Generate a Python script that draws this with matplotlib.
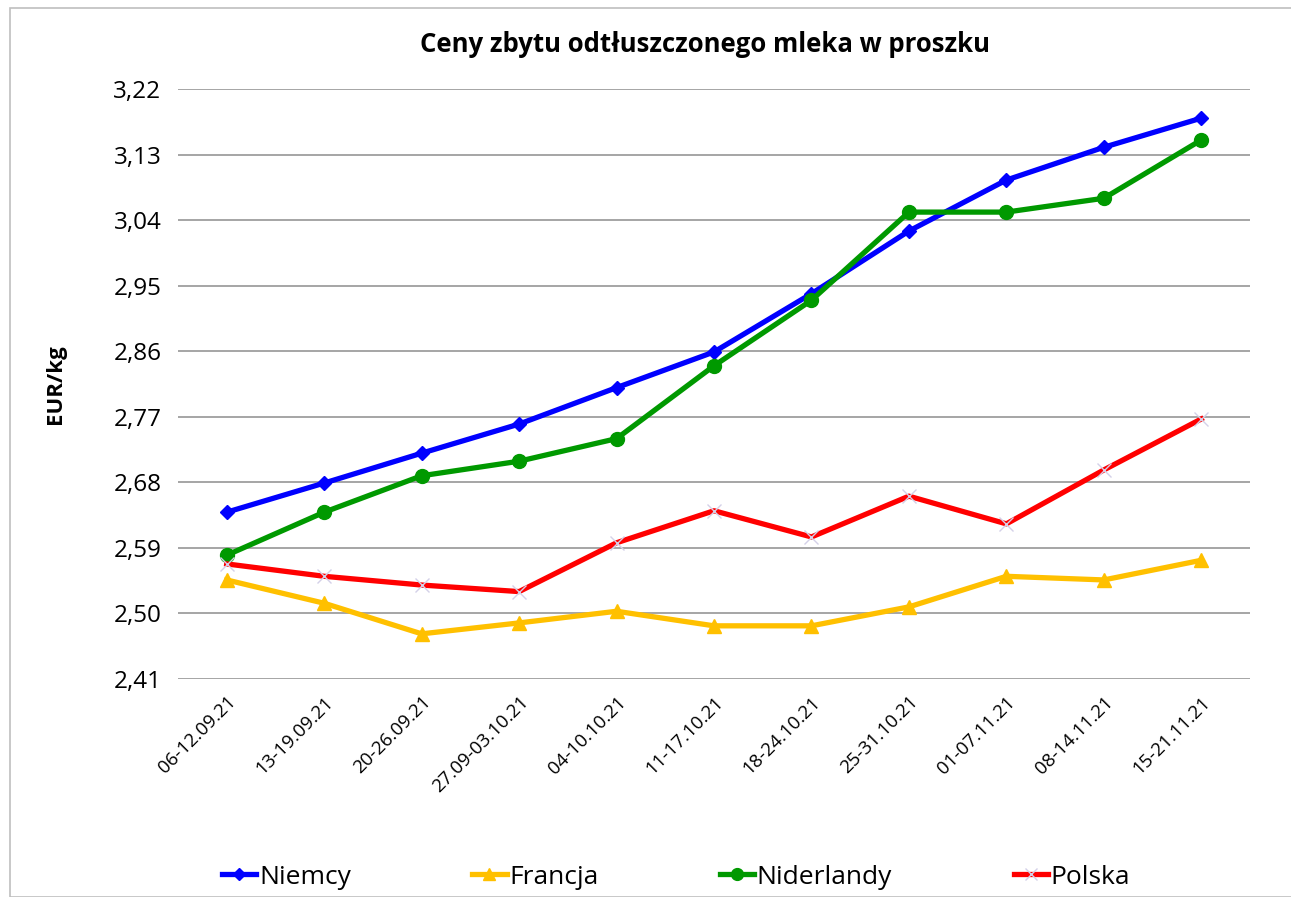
import matplotlib.pyplot as plt
import matplotlib.patches as patches
import numpy as np

weeks = ["06-12.09.21", "13-19.09.21", "20-26.09.21", "27.09-03.10.21", "04-10.10.21",
         "11-17.10.21", "18-24.10.21", "25-31.10.21", "01-07.11.21", "08-14.11.21",
         "15-21.11.21"]
niemcy = [2.639, 2.679, 2.720, 2.760, 2.810, 2.859, 2.939, 3.025, 3.095, 3.140, 3.180]
francja = [2.546, 2.514, 2.472, 2.487, 2.503, 2.483, 2.483, 2.509, 2.551, 2.546, 2.573]
niderlandy = [2.580, 2.639, 2.689, 2.709, 2.740, 2.840, 2.930, 3.051, 3.051, 3.070, 3.150]
polska = [2.568, 2.551, 2.539, 2.530, 2.597, 2.641, 2.605, 2.661, 2.623, 2.697, 2.767]
yticks = [2.41, 2.50, 2.59, 2.68, 2.77, 2.86, 2.95, 3.04, 3.13, 3.22]

fig = plt.figure(figsize=(12.91, 8.97), dpi=100)
ax = fig.add_axes([178 / 1291, 1 - 679 / 897, 1072 / 1291, 590 / 897])

# outer chart border
fig.patches.append(patches.Rectangle((10 / 1291, 0), 1.0, 1 - 8 / 897, transform=fig.transFigure,
                                     fill=False, edgecolor="#bfbfbf", linewidth=1.2))

x = np.arange(len(weeks))
ax.plot(x, niemcy, color="#0000ff", lw=3.8, marker="D", ms=7.5, label="Niemcy")
ax.plot(x, francja, color="#ffc000", lw=3.8, marker="^", ms=10, label="Francja")
ax.plot(x, niderlandy, color="#009900", lw=3.8, marker="o", ms=10, label="Niderlandy")
ax.plot(x, polska, color="#ff0000", lw=3.8, marker="x", ms=10, mec="#d4d0e8", mew=1, label="Polska")

ax.set_xlim(-0.5, len(weeks) - 0.5)
ax.set_ylim(2.41, 3.22)
ax.set_yticks(yticks)
ax.set_yticklabels([f"{v:.2f}".replace(".", ",") for v in yticks], fontsize=17.5, family="Open Sans")
ax.set_xticks(x)
ax.set_xticklabels(weeks, rotation=45, ha="right", rotation_mode="anchor", fontsize=13.5, family="Open Sans")
ax.tick_params(axis="both", length=0, pad=10)
ax.tick_params(axis="y", pad=12)
ax.grid(axis="y", color="#969696", lw=1.2)
ax.set_axisbelow(True)
for s in ax.spines.values():
    s.set_visible(False)

ax.set_ylabel("EUR/kg", fontsize=16, fontweight="bold", family="Open Sans", labelpad=34)
fig.text(705 / 1291, 1 - 45 / 897, "Ceny zbytu odtłuszczonego mleka w proszku", ha="center", va="center",
         fontsize=18.5, fontweight="bold", family="Open Sans")

ax.legend(loc="center", bbox_to_anchor=(0.5 - 38 / 1072, -(877 - 679) / 590), ncol=4, frameon=False,
          prop={"family": "Open Sans", "size": 19}, handlelength=1.3, handletextpad=0.1,
          columnspacing=4.6, markerscale=0.85)

fig.savefig("out.png", dpi=100)
